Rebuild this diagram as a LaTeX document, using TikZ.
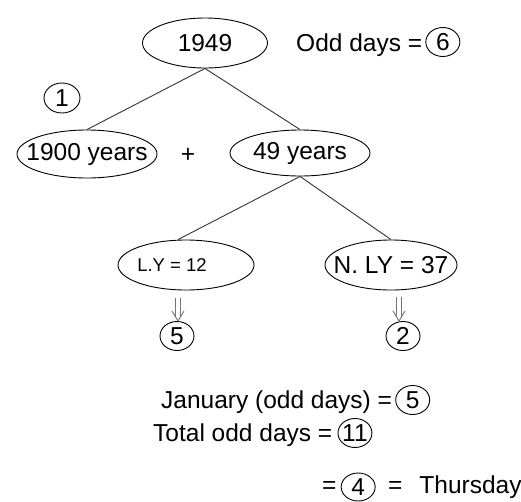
\documentclass[tikz,border=0pt]{standalone}
\usepackage{fontspec}
\setmainfont{Liberation Sans}
\usepackage{tikz}
\usetikzlibrary{arrows.meta, shapes.geometric, positioning}
\newcommand{\inell}[1]{\makebox[0pt]{#1}}
\tikzset{
  every node/.style={font=\fontsize{24.5}{29}\selectfont, inner sep=0pt},
  yearnode/.style={ellipse, draw, line width=0.9pt},
  oddnum/.style={ellipse, draw, line width=0.9pt, minimum width=34pt, minimum height=29pt},
  branch/.style={draw=black!80, line width=0.9pt},
  dbl/.style={draw=black!55, line width=0.9pt, line join=miter}
}

\begin{document}
\begin{tikzpicture}[x=1pt, y=-1pt]
\useasboundingbox (0,0) rectangle (521,501);
\node[yearnode, minimum width=125pt, minimum height=50pt] (n1949) at (205,43) {\inell{1949}};
\node[anchor=west] (oddtxt) at (296,45) {Odd days =};
\node[oddnum, right=3pt of oddtxt, yshift=3pt] (c6) {6};
\node[oddnum, minimum width=36pt, minimum height=30pt] (c1) at (62,98) {1};
\node[yearnode, minimum width=140pt, minimum height=48pt] (e1900) at (87,154) {\inell{1900 years}};
\node (plus) at (188,155) {+};
\node[yearnode, minimum width=140pt, minimum height=46pt] (e49) at (300,153) {\inell{49 years}};
\node[yearnode, minimum width=136pt, minimum height=50pt, font=\fontsize{18.5}{22}\selectfont] (eLY) at (186,265) {\inell{L.Y = 12\hspace{28pt}}};
\node[yearnode, minimum width=132pt, minimum height=50pt] (eNLY) at (391,265) {\inell{N. LY = 37}};
\node[oddnum] (c5a) at (177,336) {5};
\node[oddnum] (c2) at (403,336) {2};
\coordinate (a5) at (178,298);
\coordinate (a2) at (399,297);
\draw[branch] (n1949.south) -- (e1900.north);
\draw[branch] (n1949.south) -- (e49.north);
\draw[branch] (e49.south) -- ([xshift=-8pt]eLY.north);
\draw[branch] (e49.south) -- (eNLY.north);
\draw[dbl] ([xshift=-2.5pt]a5) -- ++(0,19) ([xshift=2.5pt]a5) -- ++(0,19)
  ([xshift=-6pt,yshift=-13pt]a5) -- (a5 |- c5a.north) -- ([xshift=6pt,yshift=-13pt]a5);
\draw[dbl] ([xshift=-2.5pt]a2) -- ++(0,20) ([xshift=2.5pt]a2) -- ++(0,20)
  ([xshift=-6pt,yshift=-14pt]a2) -- (a2 |- c2.north) -- ([xshift=6pt,yshift=-14pt]a2);
\node[anchor=west] (jan) at (161,402) {January (odd days) =};
\node[oddnum, right=3pt of jan, yshift=2pt] (c5b) {5};
\node[anchor=west] (tot) at (153,435) {Total odd days =};
\node[oddnum, right=5pt of tot, yshift=2pt] (c11) {\inell{11}};
\node[anchor=base west] (eq) at (322,493) {=};
\node[oddnum, right=4pt of eq, minimum height=28pt] (c4) {4};
\node[anchor=base west] (thu) at (388,493) {=\hspace{17pt}Thursday};
\end{tikzpicture}
\end{document}
